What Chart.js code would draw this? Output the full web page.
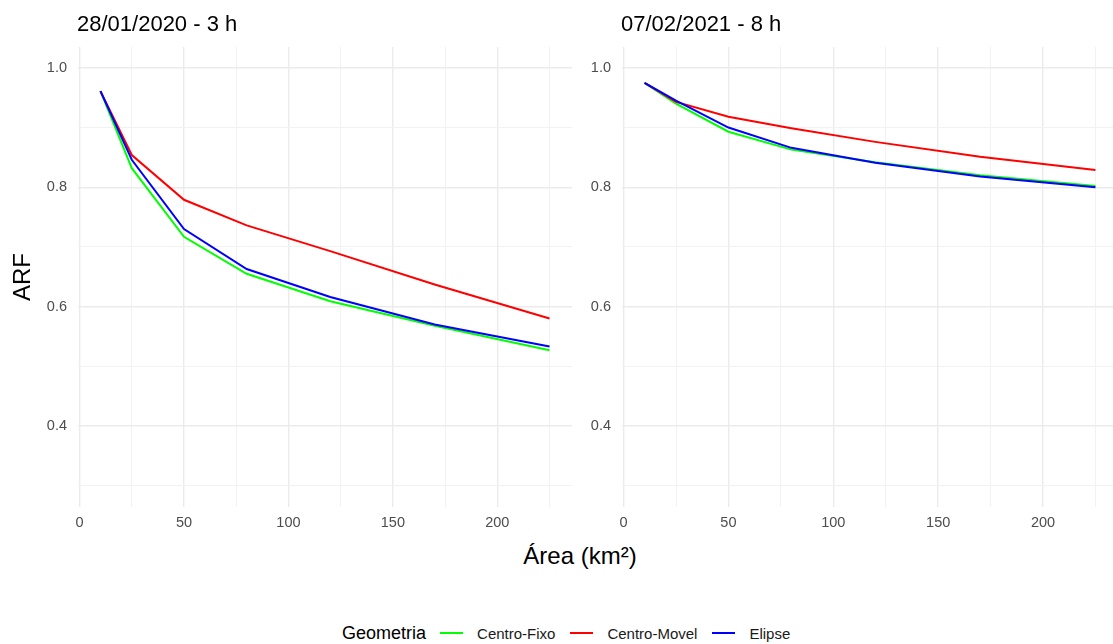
<!DOCTYPE html>
<html>
<head>
<meta charset="utf-8">
<script src="https://cdn.jsdelivr.net/npm/chart.js@4"></script>
<style>
  body { margin: 0; width: 1113px; height: 644px; overflow: hidden; background: #fff;
         font-family: "Liberation Sans", Arial, sans-serif; position: relative; }
  canvas { position: absolute; top: 0; }
  .txt { position: absolute; white-space: nowrap; color: #000; }
  .panel-title { font-size: 22px; top: 11px; }
  .legend { position: absolute; top: 623px; left: 342px; height: 20px; display: flex; align-items: center; font-size: 15px; color: #1a1a1a; }
  .legend .ttl { font-size: 18px; color: #000; margin-right: 14px; }
  .legend .sw { width: 23px; height: 2px; margin-right: 14px; }
  .legend .lb { margin-right: 15px; }
</style>
</head>
<body>
<canvas id="left" width="572" height="540" style="left:0"></canvas>
<canvas id="right" width="574" height="540" style="left:544px"></canvas>

<div class="txt panel-title" style="left:77px">28/01/2020 - 3 h</div>
<div class="txt panel-title" style="left:621px">07/02/2021 - 8 h</div>
<div class="txt" style="left:22px;top:277px;font-size:24px;transform:translate(-50%,-50%) rotate(-90deg)">ARF</div>
<div class="txt" style="left:580px;top:556px;font-size:24px;transform:translate(-50%,-50%)">Área (km²)</div>

<div class="legend">
  <span class="ttl">Geometria</span>
  <span class="sw" style="background:#00ff00"></span><span class="lb">Centro-Fixo</span>
  <span class="sw" style="background:#ff0000"></span><span class="lb">Centro-Movel</span>
  <span class="sw" style="background:#0000ff"></span><span class="lb">Elipse</span>
</div>

<script>
// data
const areas = [10, 25, 50, 80, 120, 170, 225];

const fixo2020   = [0.961, 0.832, 0.717, 0.655, 0.609, 0.568, 0.527];
const movel2020  = [0.961, 0.854, 0.779, 0.736, 0.693, 0.637, 0.580];
const elipse2020 = [0.961, 0.846, 0.730, 0.663, 0.616, 0.570, 0.533];

const fixo2021   = [0.975, 0.940, 0.893, 0.863, 0.842, 0.820, 0.802];
const movel2021  = [0.975, 0.943, 0.918, 0.899, 0.876, 0.851, 0.829];
const elipse2021 = [0.975, 0.945, 0.900, 0.866, 0.841, 0.818, 0.800];

const xTicks = [0, 25, 50, 75, 100, 125, 150, 175, 200, 225];
const yTicks = [0.3, 0.4, 0.5, 0.6, 0.7, 0.8, 0.9, 1.0];

const series = [
  { label: 'Centro-Fixo', color: '#00ff00', order: 3 },
  { label: 'Centro-Movel', color: '#ff0000', order: 2 },
  { label: 'Elipse', color: '#0000ff', order: 1 }
];

const isMajorX = v => v % 50 === 0;
const isMajorY = v => Math.round(v * 10) % 2 === 0;

function makePanel(id, values) {
  const datasets = series.map((s, i) => ({
    label: s.label,
    data: areas.map((a, j) => ({ x: a, y: values[i][j] })),
    borderColor: s.color,
    backgroundColor: s.color,
    borderWidth: 2,
    pointRadius: 0,
    tension: 0,
    order: s.order
  }));

  return new Chart(document.getElementById(id), {
    type: 'line',
    data: { datasets },
    options: {
      responsive: false,
      animation: false,
      layout: { padding: { top: 47, left: 0, right: 0, bottom: 0 } },
      plugins: { legend: { display: false }, tooltip: { enabled: false } },
      scales: {
        x: {
          type: 'linear',
          min: -0.75,
          max: 235.75,
          afterBuildTicks: sc => { sc.ticks = xTicks.map(v => ({ value: v })); },
          afterFit: sc => { sc.height = 33.5; sc.paddingLeft = 0; sc.paddingRight = 0; },
          border: { display: false },
          grid: {
            drawTicks: false,
            color: ctx => isMajorX(ctx.tick.value) ? '#ebebeb' : '#f2f2f2',
            lineWidth: ctx => isMajorX(ctx.tick.value) ? 1.4 : 1
          },
          ticks: {
            padding: 8,
            color: '#4d4d4d',
            font: { family: 'Liberation Sans', size: 14.5 },
            maxRotation: 0,
            autoSkip: false,
            callback: v => isMajorX(v) ? String(v) : ''
          }
        },
        y: {
          min: 0.265,
          max: 1.035,
          afterBuildTicks: sc => { sc.ticks = yTicks.map(v => ({ value: v })); },
          afterFit: sc => { sc.width = 78; sc.paddingTop = 0; sc.paddingBottom = 0; },
          border: { display: false },
          grid: {
            drawTicks: false,
            color: ctx => isMajorY(ctx.tick.value) ? '#ebebeb' : '#f2f2f2',
            lineWidth: ctx => isMajorY(ctx.tick.value) ? 1.4 : 1
          },
          ticks: {
            padding: 11,
            color: '#4d4d4d',
            font: { family: 'Liberation Sans', size: 14.5 },
            autoSkip: false,
            callback: v => isMajorY(v) ? v.toFixed(1) : ''
          }
        }
      }
    }
  });
}

makePanel('left', [fixo2020, movel2020, elipse2020]);
makePanel('right', [fixo2021, movel2021, elipse2021]);
</script>
</body>
</html>
